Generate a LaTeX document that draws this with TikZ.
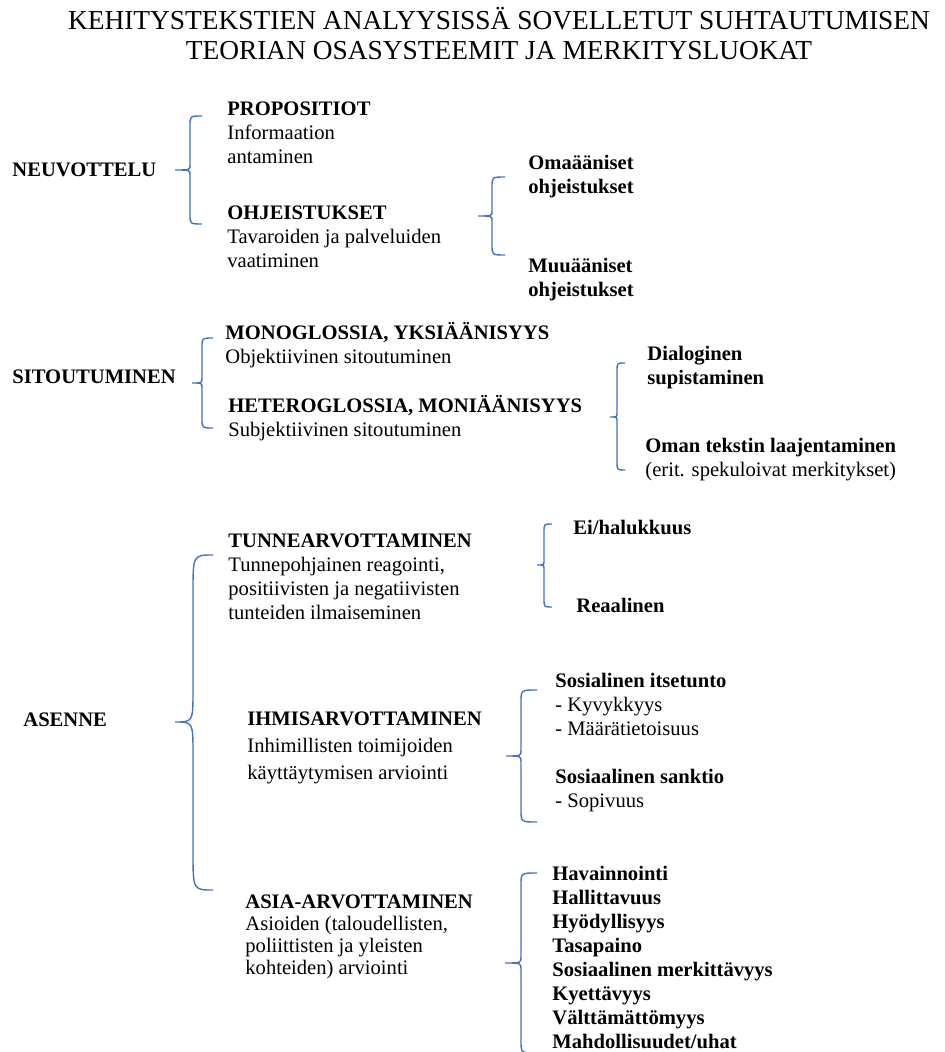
\documentclass[tikz,border=0pt]{standalone}
\usepackage{fontspec}
\setmainfont{Liberation Serif}
\usepackage{tikz}
\usetikzlibrary{positioning}
\definecolor{braceblue}{RGB}{68, 114, 196}

% curly brace: tip x, tip y, spine x, arm x, top y, bottom y, end bend, tip bend
\newcommand{\wbrace}[8]{%
  \draw[brc] (#4,#5) .. controls (#3,#5) .. (#3,{#5+#7}) -- (#3,{#2-#8})
    .. controls (#3,#2) .. (#1,#2) .. controls (#3,#2) .. (#3,{#2+#8})
    -- (#3,{#6-#7}) .. controls (#3,#6) .. (#4,#6);}

\begin{document}
\begin{tikzpicture}[
  x=0.5pt, y=-0.5pt,
  font=\fontsize{10.3}{12}\selectfont,
  head/.style={font=\fontsize{10.3}{12}\selectfont\bfseries, anchor=west, inner sep=0pt},
  item/.style={align=left, anchor=north west, inner sep=0pt},
  bolditem/.style={item, font=\fontsize{10.3}{12}\selectfont\bfseries},
  brc/.style={draw=braceblue, line width=0.7pt}
]
  \useasboundingbox (0,0) rectangle (945,1052);

  \node[align=center, anchor=base, inner sep=0pt, font=\fontsize{13.7}{15}\selectfont] (title) at (499,60) {
    KEHITYSTEKSTIEN ANALYYSISSÄ SOVELLETUT SUHTAUTUMISEN\\
    TEORIAN OSASYSTEEMIT JA MERKITYSLUOKAT
  };

  % neuvottelu
  \node[head] (neuvottelu) at (12,170) {NEUVOTTELU};
  \node[item] (propositiot) at (227,101.5) {\textbf{PROPOSITIOT}\\ Informaation\\ antaminen};
  \node[item] (ohjeistukset) at (227,205.5) {\textbf{OHJEISTUKSET}\\ Tavaroiden ja palveluiden\\ vaatiminen};
  \node[bolditem] (omaaaniset) at (528,155) {Omaääniset\\ ohjeistukset};
  \node[bolditem] (muuaaniset) at (528,258) {Muuääniset\\ ohjeistukset};
  \wbrace{175}{170}{190}{202}{116}{224}{10}{5}
  \wbrace{478}{216}{492}{505}{177}{255}{10}{5}

  % sitoutuminen
  \node[head] (sitoutuminen) at (12,377) {SITOUTUMINEN};
  \node[item] (monoglossia) at (225,321.5) {\textbf{MONOGLOSSIA, YKSIÄÄNISYYS}\\ Objektiivinen sitoutuminen};
  \node[item] (heteroglossia) at (228,394.5) {\textbf{HETEROGLOSSIA, MONIÄÄNISYYS}\\ Subjektiivinen sitoutuminen};
  \node[bolditem] (dialoginen) at (647,345.5) {Dialoginen\\ supistaminen};
  \node[item] (laajentaminen) at (645,437.5) {\textbf{Oman tekstin laajentaminen}\\ (erit. spekuloivat merkitykset)};
  \wbrace{192}{383}{202}{213}{338}{428}{9}{5}
  \wbrace{610}{417}{617}{625}{363}{470}{8}{4}

  % asenne
  \node[head] (asenne) at (23,720) {ASENNE};
  \node[item] (tunne) at (228,533.5) {\textbf{TUNNEARVOTTAMINEN}\\ Tunnepohjainen reagointi,\\ positiivisten ja negatiivisten\\ tunteiden ilmaiseminen};
  \node[item] (ihmis) at (247,711.5) {\textbf{IHMISARVOTTAMINEN}\\[1.5pt] Inhimillisten toimijoiden\\[1.5pt] käyttäytymisen arviointi};
  \node[item] (asia) at (245,894.5) {\textbf{ASIA-ARVOTTAMINEN}\\[-1pt] Asioiden (taloudellisten,\\[-1pt] poliittisten ja yleisten\\[-1pt] kohteiden) arviointi};
  \wbrace{175}{722}{193}{213}{555}{890}{38}{32}

  \node[bolditem] (halukkuus) at (573,519.5) {Ei/halukkuus};
  \node[bolditem] (reaalinen) at (576,597.5) {Reaalinen};
  \wbrace{537}{565}{544}{552}{524}{607}{8}{4}

  \node[item] (itsetunto) at (555,672.5) {\textbf{Sosialinen itsetunto}\\ - Kyvykkyys\\ - Määrätietoisuus};
  \node[item] (sanktio) at (555,768.5) {\textbf{Sosiaalinen sanktio}\\ - Sopivuus};
  \wbrace{506}{756}{521}{537}{690}{822}{12}{6}

  \node[bolditem] (asialuokat) at (552,865.5) {Havainnointi\\ Hallittavuus\\ Hyödyllisyys\\ Tasapaino\\ Sosiaalinen merkittävyys\\ Kyettävyys\\ Välttämättömyys\\ Mahdollisuudet/uhat};
  \wbrace{505}{963}{521}{537}{873}{1053}{12}{6}
\end{tikzpicture}
\end{document}
